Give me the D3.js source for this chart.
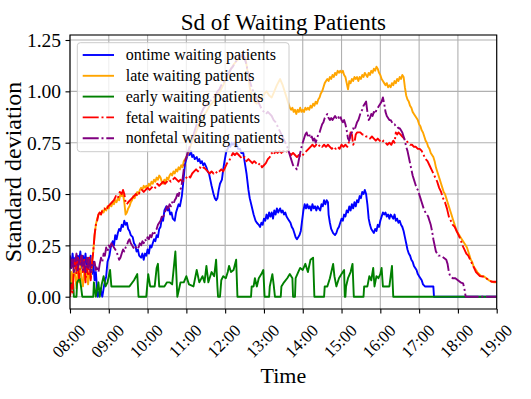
<!DOCTYPE html>
<html><head><meta charset="utf-8">
<script src="https://cdn.jsdelivr.net/npm/d3@7"></script>
<style>
body{margin:0;background:#fff;}
svg{display:block;}
text{font-family:"Liberation Serif","Times New Roman",serif;fill:#000;}
</style>
</head><body>
<svg id="chart" width="531" height="399"></svg>
<script>
// ---------- data (time in minutes after 08:00, standard deviation) ----------
const timeLabels = ["08:00","09:00","10:00","11:00","12:00","13:00","14:00","15:00","16:00","17:00","18:00","19:00"];
const yTickValues = [0, 0.25, 0.5, 0.75, 1.0, 1.25];
const seriesNames = ["ontime waiting patients","late waiting patients","early waiting patients","fetal waiting patients","nonfetal waiting patients"];

const ontime = [[0,0.2],[2,0.14],[4,0.21],[6,0.15],[8,0.19],[10,0.12],[12,0.2],[14,0.17],[16,0.22],[18,0.14],[20,0.2],[22,0.16],[24,0.21],[26,0.13],[28,0.19],[30,0.15],[32,0.2],[34,0.11],[36,0.17],[38,0.08],[40,0.12],[42,0.03],[43,0],[47,0.04],[50,0],[53,0.06],[56,0.1],[58,0.17],[61,0.2],[63,0.24],[66,0.27],[68,0.25],[70,0.3],[72,0.28],[74,0.31],[76,0.33],[78,0.32],[80,0.35],[82,0.34],[84,0.37],[86,0.35],[88,0.36],[90,0.33],[92,0.32],[94,0.3],[97,0.29],[99,0.26],[101,0.25],[103,0.22],[105,0.23],[107,0.2],[110,0.19],[112,0.21],[114,0.18],[116,0.21],[118,0.2],[120,0.23],[122,0.21],[124,0.25],[126,0.24],[128,0.26],[130,0.28],[132,0.27],[134,0.3],[136,0.29],[138,0.33],[140,0.34],[142,0.38],[144,0.37],[146,0.42],[149,0.44],[151,0.42],[153,0.43],[155,0.4],[157,0.41],[159,0.38],[162,0.37],[164,0.41],[166,0.43],[168,0.45],[170,0.44],[173,0.49],[175,0.55],[178,0.65],[180,0.67],[183,0.7],[185,0.69],[187,0.71],[189,0.68],[191,0.69],[193,0.67],[196,0.68],[198,0.66],[200,0.67],[202,0.65],[204,0.66],[206,0.64],[208,0.65],[211,0.63],[213,0.61],[215,0.6],[217,0.57],[219,0.54],[222,0.5],[224,0.48],[226,0.47],[228,0.48],[230,0.52],[232,0.55],[235,0.57],[237,0.62],[239,0.66],[242,0.71],[244,0.72],[246,0.74],[248,0.73],[250,0.75],[252,0.74],[254,0.75],[256,0.73],[258,0.74],[260,0.72],[263,0.72],[265,0.7],[268,0.7],[270,0.66],[273,0.6],[276,0.52],[278,0.48],[281,0.44],[284,0.4],[287,0.37],[289,0.36],[292,0.35],[294,0.34],[296,0.36],[298,0.35],[300,0.38],[302,0.37],[304,0.4],[306,0.38],[308,0.41],[310,0.39],[312,0.41],[314,0.38],[316,0.42],[318,0.4],[320,0.43],[322,0.41],[325,0.43],[327,0.41],[329,0.42],[331,0.4],[333,0.41],[335,0.39],[337,0.38],[339,0.37],[341,0.36],[343,0.34],[345,0.33],[347,0.31],[349,0.29],[351,0.28],[353,0.29],[355,0.3],[357,0.32],[359,0.37],[361,0.42],[363,0.45],[365,0.43],[367,0.45],[369,0.43],[371,0.44],[373,0.42],[375,0.45],[377,0.43],[379,0.44],[381,0.42],[383,0.44],[385,0.43],[387,0.42],[389,0.45],[391,0.44],[393,0.47],[395,0.45],[397,0.47],[399,0.46],[400,0.4],[402,0.36],[404,0.33],[407,0.31],[410,0.3],[412,0.31],[414,0.33],[416,0.34],[418,0.36],[420,0.38],[422,0.37],[424,0.4],[426,0.39],[428,0.42],[430,0.41],[432,0.44],[434,0.42],[436,0.45],[438,0.43],[440,0.46],[442,0.44],[444,0.47],[446,0.46],[448,0.49],[450,0.48],[452,0.51],[454,0.5],[456,0.52],[458,0.5],[460,0.45],[462,0.38],[464,0.35],[466,0.33],[468,0.32],[470,0.31],[472,0.33],[474,0.32],[476,0.35],[478,0.34],[480,0.37],[482,0.39],[484,0.41],[486,0.4],[488,0.41],[490,0.39],[492,0.4],[494,0.38],[496,0.4],[498,0.39],[500,0.38],[502,0.4],[504,0.37],[506,0.38],[508,0.36],[510,0.37],[512,0.35],[514,0.34],[516,0.32],[518,0.29],[520,0.26],[522,0.23],[524,0.21],[526,0.2],[528,0.18],[530,0.17],[532,0.15],[534,0.14],[536,0.13],[538,0.11],[540,0.1],[542,0.09],[544,0.08],[546,0.06],[549,0.05],[555,0.05],[562,0.05],[563,0],[660,0]];

const late = [[0,0.05],[2,0.12],[4,0.06],[6,0.15],[8,0.1],[10,0.04],[12,0.13],[14,0.07],[16,0.15],[18,0.09],[20,0.05],[22,0.12],[24,0.08],[26,0.15],[28,0.06],[30,0.12],[32,0.09],[34,0.17],[36,0.22],[38,0.3],[40,0.35],[42,0.38],[44,0.4],[46,0.41],[48,0.4],[50,0.42],[52,0.41],[54,0.43],[56,0.42],[58,0.44],[60,0.43],[62,0.45],[64,0.44],[66,0.46],[68,0.45],[70,0.47],[72,0.46],[74,0.48],[76,0.47],[78,0.5],[80,0.49],[82,0.5],[84,0.46],[86,0.4],[88,0.41],[90,0.43],[92,0.44],[94,0.46],[96,0.47],[98,0.49],[100,0.48],[102,0.5],[104,0.51],[106,0.5],[108,0.52],[110,0.53],[112,0.52],[114,0.54],[116,0.53],[118,0.54],[120,0.53],[122,0.55],[124,0.54],[126,0.56],[128,0.55],[130,0.57],[132,0.56],[134,0.58],[136,0.57],[138,0.59],[140,0.58],[142,0.56],[144,0.55],[146,0.57],[148,0.56],[150,0.58],[152,0.57],[154,0.59],[156,0.6],[158,0.59],[160,0.61],[162,0.6],[164,0.62],[166,0.61],[168,0.63],[170,0.62],[172,0.64],[174,0.63],[176,0.66],[180,0.68],[183,0.7],[188,0.75],[192,0.78],[196,0.81],[201,0.85],[206,0.88],[211,0.9],[216,0.93],[222,0.95],[227,0.98],[232,1.0],[237,1.03],[241,1.06],[245,1.09],[249,1.11],[253,1.13],[258,1.15],[262,1.16],[266,1.17],[269,1.17],[272,1.15],[275,1.09],[278,1.02],[281,0.98],[285,0.95],[289,0.94],[293,0.96],[297,0.97],[301,0.99],[304,1.0],[308,0.98],[312,0.97],[316,1.0],[320,1.03],[325,1.06],[329,1.03],[333,0.99],[337,0.95],[340,0.92],[342,0.91],[344,0.92],[346,0.9],[348,0.91],[350,0.89],[352,0.91],[354,0.9],[356,0.92],[358,0.9],[360,0.91],[362,0.9],[364,0.92],[366,0.91],[368,0.92],[370,0.91],[372,0.93],[374,0.92],[376,0.94],[378,0.93],[380,0.95],[382,0.94],[384,0.96],[386,0.97],[388,0.99],[390,1.0],[392,1.02],[394,1.04],[396,1.05],[398,1.06],[400,1.05],[402,1.07],[404,1.06],[406,1.08],[408,1.07],[410,1.09],[412,1.08],[414,1.1],[416,1.09],[418,1.1],[420,1.09],[422,1.1],[424,1.08],[426,1.07],[428,1.04],[430,1.01],[432,1.05],[434,1.04],[436,1.06],[438,1.05],[440,1.07],[442,1.06],[444,1.07],[446,1.05],[448,1.07],[450,1.06],[452,1.08],[454,1.07],[456,1.09],[458,1.08],[460,1.07],[462,1.09],[464,1.08],[466,1.1],[468,1.09],[470,1.11],[472,1.1],[474,1.12],[476,1.11],[478,1.09],[480,1.08],[482,1.06],[484,1.05],[486,1.04],[488,1.03],[490,1.04],[492,1.02],[494,1.03],[496,1.02],[498,1.04],[500,1.03],[502,1.05],[504,1.04],[506,1.06],[508,1.05],[510,1.07],[512,1.06],[514,1.08],[516,1.07],[518,1.02],[520,0.98],[522,0.96],[524,0.95],[526,0.93],[528,0.92],[530,0.9],[532,0.89],[534,0.88],[536,0.87],[538,0.86],[540,0.84],[542,0.83],[544,0.81],[546,0.8],[548,0.78],[550,0.76],[552,0.75],[554,0.73],[556,0.72],[558,0.7],[560,0.69],[562,0.68],[564,0.66],[566,0.63],[568,0.61],[570,0.59],[572,0.57],[574,0.55],[576,0.53],[578,0.51],[580,0.5],[582,0.48],[584,0.46],[586,0.44],[588,0.42],[590,0.4],[592,0.38],[594,0.36],[596,0.34],[598,0.32],[600,0.31],[602,0.3],[604,0.29],[606,0.28],[608,0.27],[610,0.26],[612,0.25],[614,0.24],[616,0.22],[618,0.2],[620,0.18],[622,0.17],[624,0.15],[626,0.14],[628,0.13],[630,0.12],[633,0.11],[636,0.1],[640,0.1],[644,0.09],[648,0.08],[652,0.075],[656,0.07],[660,0.07]];

const early = [[0,0],[1,0.065],[5,0.065],[6,0],[10,0],[11,0.07],[15,0.09],[17,0.05],[19,0],[36,0],[37,0.07],[40,0],[44,0.07],[46,0],[49,0.06],[52,0.1],[55,0.05],[58,0.07],[62,0.13],[64,0.05],[92,0.05],[99,0.08],[104,0.11],[106,0],[118,0],[121,0.11],[124,0.05],[131,0.05],[134,0.14],[136,0.16],[138,0.05],[146,0.05],[150,0.07],[154,0.07],[158,0.06],[163,0.22],[166,0],[171,0.07],[176,0.07],[180,0.1],[184,0.06],[191,0.05],[196,0.13],[200,0.07],[205,0.1],[208,0.07],[211,0.15],[214,0.07],[219,0.12],[223,0.1],[226,0.18],[228,0.05],[229,0],[232,0],[234,0.08],[237,0.1],[241,0.09],[244,0.12],[246,0.15],[249,0.12],[253,0.13],[257,0.18],[259,0],[280,0],[281,0.05],[284,0.05],[286,0.09],[289,0.05],[292,0.09],[296,0.11],[299,0.13],[301,0],[308,0],[309,0.05],[313,0.11],[315,0.06],[317,0],[326,0],[327,0.05],[331,0.07],[336,0.09],[340,0.11],[344,0.09],[345,0],[348,0],[349,0.09],[353,0.12],[356,0.14],[360,0.13],[364,0.16],[368,0.12],[372,0.18],[376,0.19],[378,0],[393,0],[394,0.05],[398,0.05],[402,0.09],[407,0.16],[409,0.1],[412,0.05],[416,0.09],[420,0.11],[424,0.13],[425,0],[426,0],[427,0.05],[430,0.09],[434,0.12],[437,0.16],[439,0],[454,0],[455,0.05],[460,0.05],[463,0.1],[466,0.08],[469,0.14],[471,0.05],[474,0.1],[477,0.09],[480,0.11],[482,0.14],[484,0.05],[494,0.05],[498,0.15],[500,0],[660,0]];

const fetal = [[0,0],[2,0.06],[4,0.02],[6,0.14],[8,0.18],[10,0.11],[12,0.19],[14,0.09],[16,0.17],[18,0.2],[20,0.12],[22,0.18],[24,0.07],[26,0.15],[28,0.1],[30,0.19],[32,0.08],[34,0.16],[36,0.22],[38,0.3],[40,0.35],[42,0.37],[44,0.4],[46,0.41],[48,0.4],[50,0.42],[53,0.43],[56,0.42],[59,0.44],[62,0.45],[65,0.46],[68,0.47],[71,0.49],[74,0.48],[77,0.51],[80,0.5],[82,0.52],[84,0.5],[86,0.46],[88,0.45],[90,0.46],[93,0.47],[96,0.48],[99,0.49],[102,0.5],[105,0.49],[108,0.51],[111,0.52],[114,0.51],[117,0.52],[120,0.53],[123,0.52],[126,0.53],[129,0.54],[132,0.53],[135,0.55],[138,0.54],[141,0.55],[144,0.56],[147,0.55],[150,0.56],[153,0.57],[156,0.56],[159,0.57],[162,0.58],[165,0.57],[168,0.56],[171,0.57],[174,0.56],[177,0.57],[180,0.58],[183,0.59],[186,0.58],[189,0.6],[192,0.61],[195,0.62],[198,0.61],[201,0.63],[204,0.62],[207,0.63],[210,0.62],[213,0.61],[216,0.6],[219,0.61],[222,0.6],[225,0.61],[228,0.6],[231,0.61],[234,0.62],[237,0.61],[240,0.63],[243,0.65],[246,0.66],[249,0.68],[252,0.7],[255,0.69],[258,0.7],[261,0.69],[264,0.68],[267,0.67],[270,0.68],[273,0.66],[276,0.67],[279,0.66],[282,0.65],[285,0.66],[288,0.65],[291,0.64],[294,0.65],[297,0.63],[300,0.64],[303,0.65],[306,0.67],[309,0.68],[312,0.7],[315,0.69],[318,0.71],[321,0.7],[324,0.71],[327,0.7],[330,0.71],[333,0.7],[336,0.71],[339,0.7],[342,0.69],[345,0.7],[348,0.69],[351,0.68],[354,0.69],[357,0.68],[360,0.69],[363,0.7],[366,0.71],[369,0.72],[372,0.73],[375,0.74],[378,0.73],[381,0.74],[384,0.73],[387,0.74],[390,0.73],[393,0.74],[396,0.73],[399,0.74],[402,0.73],[405,0.72],[408,0.73],[411,0.72],[414,0.73],[417,0.72],[420,0.74],[423,0.73],[426,0.74],[429,0.73],[432,0.76],[434,0.8],[436,0.79],[438,0.74],[440,0.75],[442,0.79],[444,0.8],[446,0.8],[449,0.8],[452,0.79],[455,0.79],[458,0.78],[461,0.78],[464,0.77],[467,0.78],[470,0.77],[473,0.76],[476,0.77],[479,0.76],[482,0.75],[485,0.76],[488,0.75],[491,0.74],[494,0.75],[497,0.74],[500,0.76],[502,0.75],[504,0.8],[506,0.79],[508,0.8],[511,0.79],[514,0.78],[517,0.77],[520,0.76],[523,0.75],[526,0.74],[529,0.74],[532,0.73],[535,0.73],[538,0.72],[541,0.72],[544,0.71],[547,0.69],[550,0.67],[553,0.66],[556,0.64],[559,0.62],[562,0.6],[565,0.58],[568,0.56],[571,0.53],[574,0.51],[577,0.48],[580,0.46],[583,0.43],[586,0.39],[589,0.37],[592,0.35],[595,0.34],[598,0.32],[601,0.3],[604,0.28],[607,0.25],[610,0.23],[613,0.21],[616,0.2],[619,0.18],[622,0.16],[625,0.14],[628,0.12],[631,0.11],[634,0.1],[640,0.097],[646,0.085],[652,0.073],[660,0.073]];

const nonfetal = [[0,0.2],[2,0.14],[4,0.19],[6,0.12],[8,0.17],[10,0.21],[12,0.13],[14,0.18],[16,0.15],[18,0.2],[20,0.13],[22,0.17],[24,0.12],[26,0.19],[28,0.14],[30,0.18],[32,0.12],[34,0.16],[36,0.15],[38,0.17],[40,0.13],[42,0.15],[44,0.12],[46,0.16],[48,0.19],[50,0.17],[52,0.21],[54,0.2],[56,0.24],[58,0.22],[60,0.25],[62,0.24],[64,0.26],[66,0.25],[68,0.24],[70,0.23],[72,0.22],[74,0.2],[76,0.18],[78,0.19],[80,0.21],[82,0.23],[84,0.22],[86,0.24],[88,0.25],[90,0.27],[92,0.28],[94,0.26],[96,0.25],[98,0.24],[100,0.23],[102,0.24],[104,0.25],[106,0.24],[108,0.26],[110,0.25],[112,0.27],[114,0.26],[116,0.28],[118,0.27],[120,0.29],[122,0.28],[124,0.3],[126,0.29],[128,0.31],[130,0.3],[132,0.32],[134,0.33],[136,0.35],[138,0.36],[140,0.37],[142,0.39],[144,0.38],[146,0.41],[148,0.42],[150,0.44],[152,0.43],[154,0.45],[156,0.44],[158,0.46],[160,0.45],[162,0.47],[164,0.48],[166,0.5],[168,0.49],[170,0.52],[172,0.53],[174,0.57],[176,0.62],[178,0.66],[180,0.68],[183,0.71],[186,0.74],[189,0.77],[192,0.8],[195,0.83],[198,0.86],[201,0.88],[204,0.9],[207,0.92],[210,0.93],[213,0.94],[216,0.95],[219,0.96],[222,0.97],[225,0.98],[228,1.0],[231,1.01],[234,1.03],[237,1.04],[240,1.06],[243,1.08],[246,1.09],[249,1.11],[252,1.12],[255,1.14],[258,1.15],[261,1.16],[264,1.17],[267,1.18],[270,1.16],[273,1.13],[276,1.08],[279,1.04],[282,1.01],[285,0.99],[288,0.97],[291,0.95],[294,0.93],[297,0.91],[300,0.9],[303,0.89],[306,0.9],[309,0.89],[312,0.88],[315,0.86],[318,0.85],[321,0.83],[324,0.81],[327,0.79],[330,0.77],[333,0.75],[336,0.73],[339,0.7],[342,0.67],[345,0.64],[348,0.63],[351,0.62],[353,0.65],[356,0.7],[359,0.74],[362,0.77],[364,0.79],[366,0.8],[368,0.78],[370,0.79],[372,0.77],[374,0.78],[376,0.76],[378,0.77],[380,0.75],[382,0.77],[384,0.79],[386,0.8],[388,0.82],[390,0.84],[392,0.85],[394,0.87],[396,0.88],[398,0.89],[400,0.87],[402,0.86],[404,0.87],[406,0.86],[408,0.87],[410,0.88],[412,0.87],[414,0.88],[416,0.87],[418,0.88],[420,0.86],[422,0.85],[424,0.86],[426,0.84],[428,0.81],[430,0.77],[432,0.76],[434,0.79],[436,0.8],[438,0.82],[440,0.81],[442,0.83],[444,0.85],[446,0.86],[448,0.88],[450,0.9],[452,0.91],[454,0.93],[456,0.94],[458,0.95],[460,0.9],[462,0.86],[464,0.87],[466,0.89],[468,0.88],[470,0.9],[472,0.89],[474,0.91],[476,0.92],[478,0.93],[480,0.94],[482,0.95],[484,0.97],[486,0.94],[488,0.9],[490,0.88],[492,0.87],[494,0.86],[496,0.86],[498,0.85],[500,0.84],[502,0.84],[504,0.83],[506,0.83],[508,0.82],[510,0.82],[512,0.81],[514,0.8],[516,0.78],[518,0.76],[520,0.73],[522,0.71],[524,0.68],[526,0.65],[528,0.62],[530,0.59],[532,0.57],[534,0.55],[536,0.53],[538,0.52],[540,0.5],[542,0.48],[544,0.46],[546,0.44],[548,0.42],[550,0.41],[552,0.4],[554,0.39],[556,0.37],[558,0.35],[560,0.32],[562,0.28],[564,0.25],[566,0.22],[568,0.21],[570,0.2],[574,0.2],[578,0.19],[582,0.18],[584,0.16],[586,0.12],[588,0.1],[592,0.09],[596,0.09],[600,0.08],[604,0.07],[608,0.065],[610,0.04],[612,0],[660,0]];

const seriesData = [ontime, late, early, fetal, nonfetal];
const seriesColors = ["#0000ff","#ffa500","#008000","#ff0000","#800080"];
const seriesDash = [null, null, null, "16,2.8,2,2.8", "16,2.8,2,2.8"];

// ---------- layout ----------
const svg = d3.select("#chart");
const L = 70, R = 496.7, T = 35, B = 309;
const x = d3.scaleLinear().domain([0, 660]).range([L, R]);
const y = d3.scaleLinear().domain([0, 1.25]).range([296.7, 40]);

svg.append("rect").attr("width",531).attr("height",399).attr("fill","#fff");

// grid
const grid = svg.append("g");
grid.selectAll("line.v").data(d3.range(0, 661, 60)).join("line")
  .attr("x1", d => x(d)).attr("x2", d => x(d)).attr("y1", T).attr("y2", B)
  .attr("stroke", "#b0b0b0").attr("stroke-width", 1.1);
grid.selectAll("line.h").data(yTickValues).join("line")
  .attr("y1", d => y(d)).attr("y2", d => y(d)).attr("x1", L).attr("x2", R)
  .attr("stroke", "#b0b0b0").attr("stroke-width", 1.1);

// clip
svg.append("clipPath").attr("id","clip").append("rect")
  .attr("x", L).attr("y", T).attr("width", R - L).attr("height", B - T);

const line = d3.line().x(d => x(d[0])).y(d => y(d[1]));
const lines = svg.append("g").attr("clip-path","url(#clip)");
seriesData.forEach((s, i) => {
  lines.append("path").datum(s).attr("d", line)
    .attr("fill","none").attr("stroke", seriesColors[i])
    .attr("stroke-width", 1.9).attr("stroke-linejoin","round")
    .attr("stroke-dasharray", seriesDash[i]);
});

// axes
const fsTick = 19.5, fsX = 17;
const yAxis = svg.append("g").attr("transform", `translate(${L},0)`)
  .call(d3.axisLeft(y).tickValues(yTickValues).tickFormat(d3.format(".2f")).tickSize(4.5).tickPadding(4.5));
yAxis.select(".domain").remove();
yAxis.selectAll("text").style("font-size", fsTick + "px").attr("dy","0.34em");

const xAxis = svg.append("g").attr("transform", `translate(0,${B})`)
  .call(d3.axisBottom(x).tickValues(d3.range(0, 661, 60)).tickFormat((d, i) => timeLabels[i]).tickSize(4.5));
xAxis.select(".domain").remove();
xAxis.selectAll("text").style("font-size", fsX + "px")
  .attr("x", 0).attr("y", 0).attr("dy", "0.32em").attr("text-anchor","middle")
  .each(function() {
    const len = this.getComputedTextLength();
    const off = (len + fsX * 0.68) / (2 * Math.SQRT2);
    d3.select(this).attr("transform", `translate(-1.5,${14.5 + off}) rotate(-45)`);
  });
svg.selectAll(".tick line").attr("stroke","#000").attr("stroke-width",1.1);

// spines
svg.append("rect").attr("x", L).attr("y", T).attr("width", R - L).attr("height", B - T)
  .attr("fill","none").attr("stroke","#000").attr("stroke-width",1.1);

// titles
svg.append("text").attr("x", (L + R) / 2).attr("y", 30).attr("text-anchor","middle")
  .style("font-size","23px").text("Sd of Waiting Patients");
svg.append("text").attr("x", (L + R) / 2).attr("y", 383).attr("text-anchor","middle")
  .style("font-size","22px").text("Time");
svg.append("text").attr("transform", `translate(21,${(T + B) / 2}) rotate(-90)`).attr("text-anchor","middle")
  .style("font-size","24px").text("Standard deviation");

// legend
const lg = svg.append("g");
lg.append("rect").attr("x", 77.3).attr("y", 42.7).attr("width", 211.7).attr("height", 109)
  .attr("rx", 3).attr("fill","#fff").attr("fill-opacity",0.8).attr("stroke","#cccccc").attr("stroke-width",1);
seriesNames.forEach((name, i) => {
  const yy = 55 + i * 20.8;
  lg.append("line").attr("x1", 82.7).attr("x2", 114).attr("y1", yy).attr("y2", yy)
    .attr("stroke", seriesColors[i]).attr("stroke-width", 1.9).attr("stroke-dasharray", seriesDash[i]);
  lg.append("text").attr("x", 125.7).attr("y", yy).attr("dy","0.32em")
    .style("font-size","16px").text(name);
});
</script>
</body></html>
